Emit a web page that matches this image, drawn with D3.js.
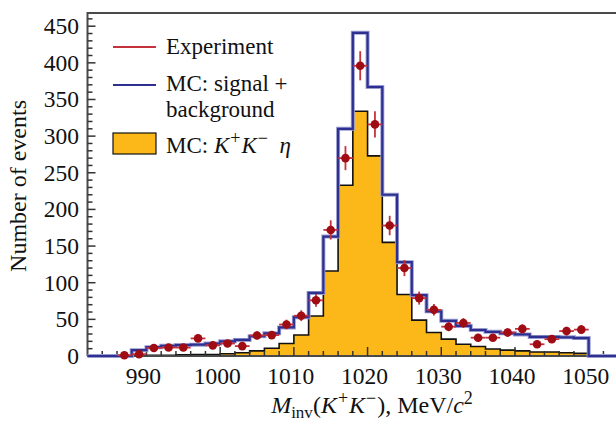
<!DOCTYPE html>
<html lang="en">
<head>
    <meta charset="UTF-8">
    <title>M_inv(K+K-) distribution</title>
    <script src="https://d3js.org/d3.v7.min.js"></script>
    <style>
        body { margin: 0; background: #fff; }
        svg { display: block; font-family: "Liberation Serif", "DejaVu Serif", serif; }
        .tick-label { font-size: 23.5px; fill: #111; }
        .legend { font-size: 23px; fill: #111; }
        .title { font-size: 24px; fill: #111; }
    </style>
</head>
<body>
<svg id="chart"></svg>
<script>
    // bin centres, MeV/c^2 (bin width 2 MeV)
    const binCenters = [985, 987, 989, 991, 993, 995, 997, 999, 1001, 1003, 1005, 1007, 1009, 1011,
        1013, 1015, 1017, 1019, 1021, 1023, 1025, 1027, 1029, 1031, 1033, 1035, 1037, 1039, 1041,
        1043, 1045, 1047, 1049];
    const binWidth = 2;

    // MC: signal + background
    const mcTotal = [0, 0, 8, 12, 14, 15, 15.5, 17, 20, 22, 27, 31, 39, 53, 86, 163, 310, 441, 367,
        220, 128, 83, 61, 48, 41, 35.5, 33, 31, 29.5, 26, 26, 25.5, 24.5];

    // MC: K+K- eta
    const mcSignal = [0, 0.5, 0.5, 1, 1, 1.5, 2, 2, 3, 4.5, 7, 10.5, 17, 28.6, 54.5, 116, 233, 334,
        273, 155, 84, 49, 32, 23, 16, 13, 9.5, 8, 7, 5.5, 5.5, 4.5, 3.6];

    // Experiment
    const expCounts = [null, 1, 2.5, 11, 11.5, 11.5, 24, 14.5, 17, 13.5, 28, 28.5, 43, 55, 76, 172,
        270, 396, 316, 178, 120, 79, 63, 40, 45, 25, 25, 32, 37, 16, 23, 34, 36];
    const expErrors = [null, 1, 1.6, 3.3, 3.4, 3.4, 4.9, 3.8, 4.1, 3.7, 5.3, 5.3, 6.6, 7.4, 8.7,
        13.1, 16.4, 19.9, 17.8, 13.3, 11, 8.9, 7.9, 6.3, 6.7, 5, 5, 5.7, 6.1, 4, 4.8, 5.8, 6];

    const xTicks = [990, 1000, 1010, 1020, 1030, 1040, 1050];
    const yTicks = [0, 50, 100, 150, 200, 250, 300, 350, 400, 450];

    const W = 616, H = 421;
    const svg = d3.select("#chart").attr("width", W).attr("height", H);

    const x = d3.scaleLinear().domain([982, 1056]).range([87.5, 632.9]);
    const y = d3.scaleLinear().domain([0, 468]).range([356, 13]);

    const first = binCenters[0] - binWidth / 2;
    const last = binCenters[binCenters.length - 1] + binWidth / 2;

    // step outline points, closed down to zero at both ends
    function stepPath(values) {
        const pts = [[first, 0]];
        binCenters.forEach((c, i) => {
            const v = values[i] || 0;
            pts.push([c - binWidth / 2, v]);
            pts.push([c + binWidth / 2, v]);
        });
        pts.push([last, 0]);
        return pts;
    }

    const line = d3.line().x(d => x(d[0])).y(d => y(d[1]));

    // yellow area K+K- eta
    const sigPts = stepPath(mcSignal);
    svg.append("path")
        .datum(sigPts)
        .attr("d", d3.area().x(d => x(d[0])).y0(y(0)).y1(d => y(d[1])))
        .attr("fill", "#fbb818");
    svg.append("path")
        .datum(sigPts)
        .attr("d", line)
        .attr("fill", "none")
        .attr("stroke", "#111")
        .attr("stroke-width", 1.6);

    // axes frame
    svg.append("line")
        .attr("x1", x(982)).attr("x2", W + 5)
        .attr("y1", y(468)).attr("y2", y(468))
        .attr("stroke", "#4a4a4a").attr("stroke-width", 2);
    svg.append("line")
        .attr("x1", x(982)).attr("x2", x(982))
        .attr("y1", y(468) - 1).attr("y2", y(0))
        .attr("stroke", "#4a4a4a").attr("stroke-width", 2);
    svg.append("line")
        .attr("x1", x(982)).attr("x2", W + 5)
        .attr("y1", y(0)).attr("y2", y(0))
        .attr("stroke", "#4a4a4a").attr("stroke-width", 2);

    // y ticks (inside)
    d3.range(0, 461, 10).forEach(v => {
        const major = v % 50 === 0;
        svg.append("line")
            .attr("x1", x(982)).attr("x2", x(982) + (major ? 8 : 5))
            .attr("y1", y(v)).attr("y2", y(v))
            .attr("stroke", "#333").attr("stroke-width", 1.5);
    });
    svg.selectAll(".ylab")
        .data(yTicks)
        .join("text")
        .attr("class", "tick-label")
        .attr("x", 79)
        .attr("y", d => y(d) + 8)
        .attr("text-anchor", "end")
        .text(d => d);

    // x ticks (inside)
    d3.range(984, 1055, 2).forEach(v => {
        const major = v % 10 === 0;
        svg.append("line")
            .attr("x1", x(v)).attr("x2", x(v))
            .attr("y1", y(0)).attr("y2", y(0) - (major ? 9 : 5))
            .attr("stroke", "#333").attr("stroke-width", 1.5);
    });
    svg.selectAll(".xlab")
        .data(xTicks)
        .join("text")
        .attr("class", "tick-label")
        .attr("x", d => x(d) - 3)
        .attr("y", 384)
        .attr("text-anchor", "middle")
        .text(d => d);

    // MC total histogram (blue), baseline runs across the whole frame
    const totPts = [[x.domain()[0], 0], ...stepPath(mcTotal), [x.domain()[1], 0]];
    svg.append("path")
        .datum(totPts)
        .attr("d", line)
        .attr("fill", "none")
        .attr("stroke", "#9a9cd0")
        .attr("stroke-width", 4);
    svg.append("path")
        .datum(totPts)
        .attr("d", line)
        .attr("fill", "none")
        .attr("stroke", "#2d3090")
        .attr("stroke-width", 2.2);

    // experiment points
    const expData = binCenters.map((c, i) => ({ c, v: expCounts[i], e: expErrors[i] }))
        .filter(d => d.v !== null);
    const pts = svg.append("g");
    pts.selectAll(".ex")
        .data(expData)
        .join("line")
        .attr("x1", d => x(d.c - binWidth / 2)).attr("x2", d => x(d.c + binWidth / 2))
        .attr("y1", d => y(d.v)).attr("y2", d => y(d.v))
        .attr("stroke", "#c4323c").attr("stroke-width", 1.8);
    pts.selectAll(".ey")
        .data(expData)
        .join("line")
        .attr("x1", d => x(d.c)).attr("x2", d => x(d.c))
        .attr("y1", d => y(d.v + d.e)).attr("y2", d => y(Math.max(0, d.v - d.e)))
        .attr("stroke", "#c4323c").attr("stroke-width", 1.8);
    pts.selectAll("circle")
        .data(expData)
        .join("circle")
        .attr("cx", d => x(d.c)).attr("cy", d => y(d.v))
        .attr("r", 4.3)
        .attr("fill", "#a00c14");

    // legend
    const lg = svg.append("g");
    lg.append("line").attr("x1", 113).attr("x2", 156).attr("y1", 47).attr("y2", 47)
        .attr("stroke", "#c4323c").attr("stroke-width", 1.8);
    lg.append("text").attr("class", "legend").attr("x", 166).attr("y", 54).text("Experiment");
    lg.append("line").attr("x1", 113).attr("x2", 156).attr("y1", 85).attr("y2", 85)
        .attr("stroke", "#2d3090").attr("stroke-width", 2.2);
    lg.append("text").attr("class", "legend").attr("x", 166).attr("y", 91).text("MC: signal +");
    lg.append("text").attr("class", "legend").attr("x", 166).attr("y", 117).text("background");
    lg.append("rect").attr("x", 113).attr("y", 133).attr("width", 43).attr("height", 21)
        .attr("fill", "#fbb818").attr("stroke", "#111").attr("stroke-width", 1.2);
    const t3 = lg.append("text").attr("class", "legend").attr("x", 166).attr("y", 153);
    t3.append("tspan").text("MC: ");
    t3.append("tspan").attr("font-style", "italic").text("K");
    t3.append("tspan").attr("dx", 1).attr("dy", -9).attr("font-size", 18).text("+");
    t3.append("tspan").attr("dx", 1).attr("dy", 9).attr("font-style", "italic").text("K");
    t3.append("tspan").attr("dx", 1).attr("dy", -9).attr("font-size", 18).text("\u2212");
    t3.append("tspan").attr("dy", 9).text("\u2002");
    t3.append("tspan").attr("font-style", "italic").text("\u03b7");

    // axis titles
    const xt = svg.append("text").attr("class", "title")
        .attr("x", 372).attr("y", 413).attr("text-anchor", "middle");
    xt.append("tspan").attr("font-style", "italic").text("M");
    xt.append("tspan").attr("dy", 5).attr("font-size", 17).text("inv");
    xt.append("tspan").attr("dy", -5).text("(");
    xt.append("tspan").attr("font-style", "italic").text("K");
    xt.append("tspan").attr("dx", 1).attr("dy", -9).attr("font-size", 18).text("+");
    xt.append("tspan").attr("dx", 1).attr("dy", 9).attr("font-style", "italic").text("K");
    xt.append("tspan").attr("dx", 1).attr("dy", -9).attr("font-size", 18).text("\u2212");
    xt.append("tspan").attr("dx", 1).attr("dy", 9).text("), MeV/");
    xt.append("tspan").attr("font-style", "italic").text("c");
    xt.append("tspan").attr("dy", -9).attr("font-size", 18).text("2");

    svg.append("text").attr("class", "title")
        .attr("transform", `translate(26,${y(232)}) rotate(-90)`)
        .attr("text-anchor", "middle")
        .text("Number of events");
</script>
</body>
</html>
